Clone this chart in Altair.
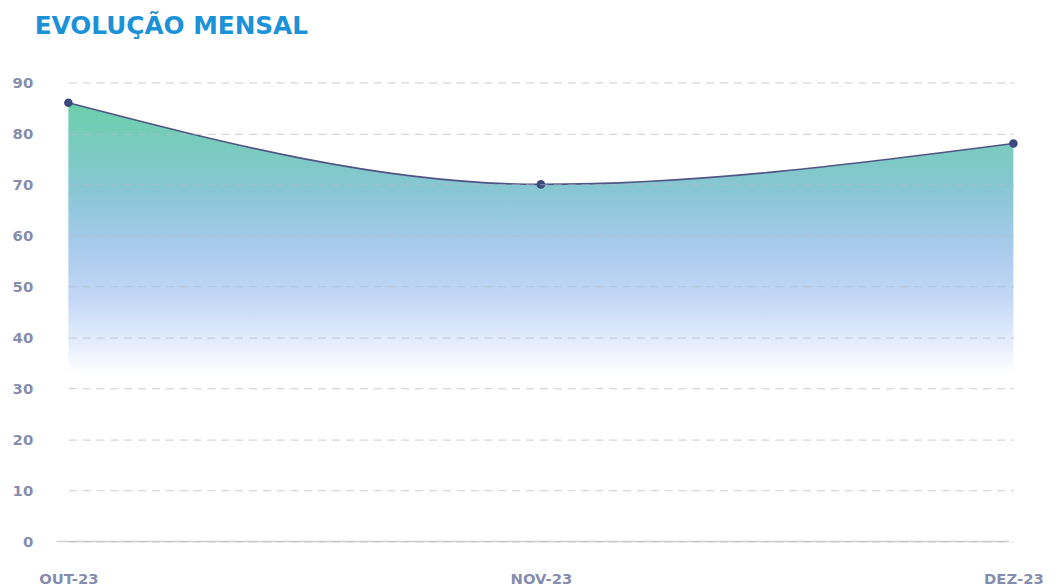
import altair as alt
import pandas as pd

months = ["OUT-23", "NOV-23", "DEZ-23"]
values = [86, 70, 78]

df = pd.DataFrame({"mes": months, "valor": values})

LBL = "#6f779e"

x_enc = alt.X("mes:N", sort=months,
              scale=alt.Scale(type="point", range=[12, 967], padding=0),
              axis=alt.Axis(title=None, labelAngle=0, labelColor=LBL,
                            labelFont="DejaVu Sans", labelFontSize=15, labelFontWeight="bold",
                            labelPadding=30, ticks=False, domain=False, grid=False,
                            labelOpacity=0.85))
y_enc = alt.Y("valor:Q", scale=alt.Scale(domain=[0, 90], nice=False),
              axis=alt.Axis(title=None, values=list(range(10, 91, 10)) + [0], labelColor=LBL,
                            labelFont="DejaVu Sans", labelFontSize=15, labelFontWeight="bold",
                            labelPadding=24, ticks=False, domain=False, labelOpacity=0.85,
                            gridColor="#b8bcc8", gridOpacity=0.6, gridDash=[8, 6],
                            gridWidth=1.2, zindex=1))

grad = alt.Gradient(
    gradient="linear", x1=0, x2=0, y1=0, y2=1,
    stops=[
        alt.GradientStop(color="#6bd0aa", offset=0.0),
        alt.GradientStop(color="#88c6d4", offset=0.2),
        alt.GradientStop(color="#a8cbec", offset=0.33),
        alt.GradientStop(color="#c4d8f6", offset=0.45),
        alt.GradientStop(color="#e6eefd", offset=0.55),
        alt.GradientStop(color="#ffffff", offset=0.62),
        alt.GradientStop(color="#ffffff", offset=1.0),
    ],
)

base = alt.Chart(df)
area = base.mark_area(interpolate="monotone", color=grad).encode(x=x_enc, y=y_enc)
line = base.mark_line(interpolate="monotone", color="#4f5585", strokeWidth=1.6).encode(x=x_enc, y=y_enc)
pts = base.mark_point(filled=True, color="#3e4a7e", size=75, opacity=1).encode(x=x_enc, y=y_enc)

zero = alt.Chart(pd.DataFrame({"v": [0]})).mark_rule(color="#cfcfcf", strokeWidth=1.5).encode(
    y=alt.Y("v:Q", scale=alt.Scale(domain=[0, 90], nice=False)),
    x=alt.value(0), x2=alt.value(963))

chart = (area + line + pts + zero).properties(
    width=967, height=464,
    autosize=alt.AutoSizeParams(type="none"),
    padding={"left": 49, "top": 72, "right": 40, "bottom": 60},
    title=alt.TitleParams(text="EVOLUÇÃO  MENSAL", anchor="start", frame="group", dx=-22, offset=17,
                          color="#1b92d8", font="DejaVu Sans", fontSize=25, fontWeight="bold",
                          baseline="alphabetic"),
).configure_view(stroke=None).configure_title(limit=0)

chart.save("out.html", embed_options={"renderer": "svg", "actions": False})
